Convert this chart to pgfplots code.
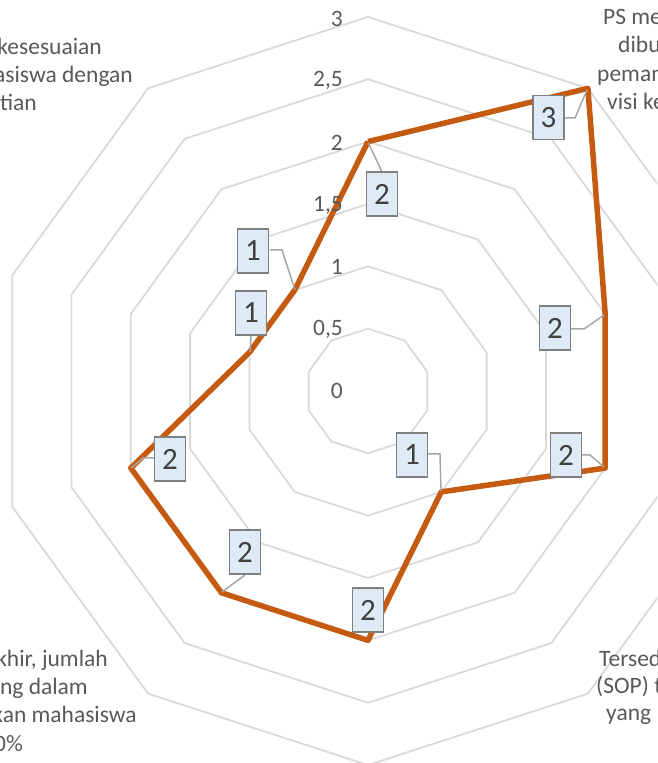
\documentclass[border=0pt]{standalone}
\usepackage{fontspec}
\setmainfont{Carlito}
\usepackage{pgfplots}
\pgfplotsset{compat=1.18}
\definecolor{gridc}{HTML}{D9D9D9}
\definecolor{serc}{HTML}{C55A11}
\definecolor{txtc}{HTML}{595959}
\definecolor{boxfill}{HTML}{DEEBF7}
\definecolor{boxdraw}{HTML}{7F7F7F}
\definecolor{leadc}{HTML}{A6A6A6}
\definecolor{boxtxt}{HTML}{404040}
\begin{document}
\begin{tikzpicture}
\path[use as bounding box] (0pt,0pt) rectangle (657pt,763pt);
\clip (0pt,0pt) rectangle (657pt,763pt);
\begin{axis}[at={(0pt,0pt)}, anchor=south west, scale only axis,
  width=657pt, height=763pt,
  xmin=-2.9511, xmax=2.3176, ymin=-2.9832, ymax=3.1355,
  hide axis, clip=false]
% decagonal grid rings
\addplot[gridc, line width=1.8pt, line join=round, data cs=polar] coordinates {(90,0.5)(54,0.5)(18,0.5)(-18,0.5)(-54,0.5)(-90,0.5)(-126,0.5)(-162,0.5)(-198,0.5)(-234,0.5)(-270,0.5)};
\addplot[gridc, line width=1.8pt, line join=round, data cs=polar] coordinates {(90,1)(54,1)(18,1)(-18,1)(-54,1)(-90,1)(-126,1)(-162,1)(-198,1)(-234,1)(-270,1)};
\addplot[gridc, line width=1.8pt, line join=round, data cs=polar] coordinates {(90,1.5)(54,1.5)(18,1.5)(-18,1.5)(-54,1.5)(-90,1.5)(-126,1.5)(-162,1.5)(-198,1.5)(-234,1.5)(-270,1.5)};
\addplot[gridc, line width=1.8pt, line join=round, data cs=polar] coordinates {(90,2)(54,2)(18,2)(-18,2)(-54,2)(-90,2)(-126,2)(-162,2)(-198,2)(-234,2)(-270,2)};
\addplot[gridc, line width=1.8pt, line join=round, data cs=polar] coordinates {(90,2.5)(54,2.5)(18,2.5)(-18,2.5)(-54,2.5)(-90,2.5)(-126,2.5)(-162,2.5)(-198,2.5)(-234,2.5)(-270,2.5)};
\addplot[gridc, line width=1.8pt, line join=round, data cs=polar] coordinates {(90,3)(54,3)(18,3)(-18,3)(-54,3)(-90,3)(-126,3)(-162,3)(-198,3)(-234,3)(-270,3)};
% series
\addplot[serc, line width=5.5pt, line join=round, data cs=polar] coordinates {(90,2)(54,3)(18,2)(-18,2)(-54,1)(-90,2)(-126,2)(-162,2)(162,1)(126,1)(90,2)};
\end{axis}
\begin{scope}[x=1pt,y=1pt]
% radial tick labels
\begin{scope}[every node/.style={anchor=east, text=txtc, font=\fontsize{23.5}{27}\selectfont, inner sep=0pt}]
\node at (343,372) {0};
\node at (343,433.5) {0,5};
\node at (343,496) {1};
\node at (343,558) {1,5};
\node at (343,620.5) {2};
\node at (343,682.5) {2,5};
\node at (343,744.5) {3};
\end{scope}
% category labels (partly outside the visible area)
\begin{scope}[every node/.style={text=txtc, font=\fontsize{23.5}{27}\selectfont, inner sep=0pt}]
\node[anchor=base east] at (102,708) {Tingkat kesesuaian};
\node[anchor=base east] at (133,680) {bidang mahasiswa dengan};
\node[anchor=base east] at (37,652) {penelitian};
\node[anchor=base west] at (603,738) {PS memiliki};
\node[anchor=base west] at (618,710) {dibuat};
\node[anchor=base west] at (597,681) {pemangku};
\node[anchor=base west] at (607,653) {visi keilmuan};
\node[anchor=base east] at (108,96) {Tugas akhir, jumlah};
\node[anchor=base east] at (88,68) {yang dalam};
\node[anchor=base east] at (137,40) {diselesaikan mahasiswa};
\node[anchor=base east] at (23,11) {50\%};
\node[anchor=base west] at (599,96) {Tersedia};
\node[anchor=base west] at (596,69) {(SOP) tentang};
\node[anchor=base west] at (606,42) {yang};
\end{scope}
% leader lines
\begin{scope}[leadc, line width=1.5pt]
\draw (382,591) -- (368.5,620);
\draw (564,645) -- (575,645) -- (587,673);
\draw (571,434) -- (584,434) -- (604,448);
\draw (582,308) -- (590,308) -- (604,296);
\draw (428,309) -- (440,309) -- (441,272);
\draw (245,188) -- (222,171);
\draw (154,305) -- (143,305) -- (131,295);
\draw (251,427) -- (250,411);
\draw (270,513) -- (282,513) -- (295,473);
\end{scope}
% data labels
\begin{scope}[every node/.style={draw=boxdraw, line width=1.6pt, fill=boxfill, minimum width=31pt, minimum height=44pt, inner sep=0pt, text=boxtxt, font=\fontsize{31}{33}\selectfont}]
\node at (382,569) {2};
\node at (548.5,645.5) {3};
\node at (555,435) {2};
\node at (566,308) {2};
\node at (412,308) {1};
\node at (368,153) {2};
\node at (245,211) {2};
\node at (170,304) {2};
\node at (251,450) {1};
\node at (253,512) {1};
\end{scope}
\end{scope}
\end{tikzpicture}
\end{document}
